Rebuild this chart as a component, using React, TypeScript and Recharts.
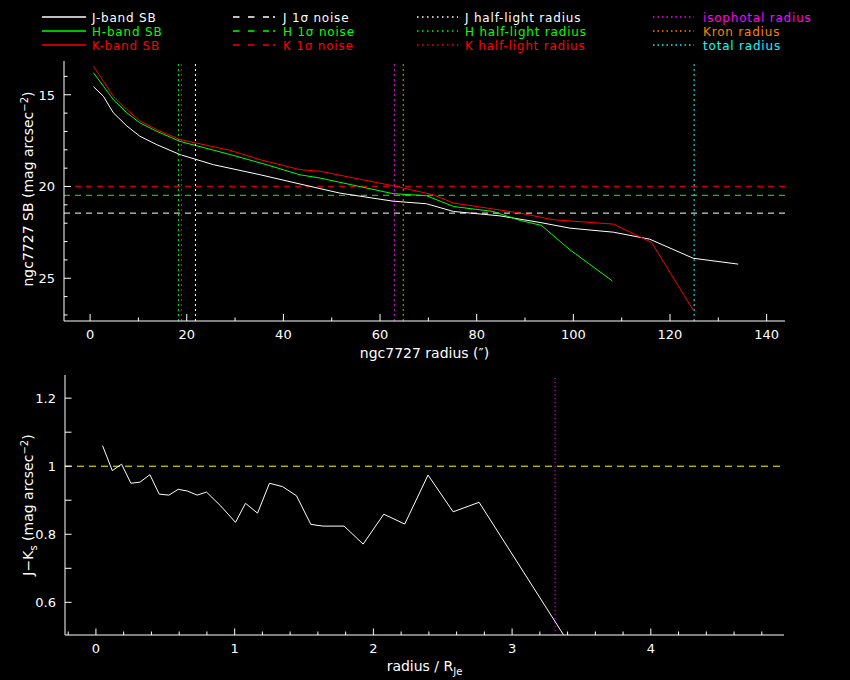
import React from 'react';
import { LineChart, Line, XAxis, YAxis, ReferenceLine, Label } from 'recharts';

// ---------- data: top panel (surface brightness profiles) ----------
const jRadius = [0.7, 2.75, 4.8, 7.6, 10.3, 13.8, 18.6, 25.5, 35.2, 45.5, 51.7, 62.7, 69.6, 75.2, 84.8, 93.1, 99.3, 108.3, 115.8, 124.8, 134.1];
const jSB = [14.56, 15.08, 15.98, 16.7, 17.26, 17.72, 18.26, 18.81, 19.36, 19.99, 20.36, 20.8, 20.94, 21.36, 21.6, 21.96, 22.27, 22.49, 22.87, 23.91, 24.23];

const hRadius = [0.7, 2.75, 4.8, 7.6, 10.3, 13.8, 18.6, 29, 36.5, 43.4, 47.6, 62.7, 69.6, 75.2, 83.4, 89, 93.4, 99.3, 108.1];
const hSB = [13.8, 14.53, 15.26, 15.98, 16.53, 16.99, 17.54, 18.26, 18.81, 19.36, 19.54, 20.39, 20.5, 21.09, 21.36, 21.85, 22.12, 23.45, 25.15];

const kRadius = [0.7, 2.75, 4.8, 7.6, 10.3, 13.8, 18.6, 29, 35.2, 43.4, 47.6, 62.7, 71, 75.2, 82, 89, 95.8, 108.3, 116.2, 124.8];
const kSB = [13.44, 14.26, 15.08, 15.8, 16.42, 16.9, 17.44, 18.03, 18.54, 19.08, 19.17, 19.96, 20.45, 20.9, 21.17, 21.45, 21.81, 22.05, 23.05, 26.73];

const noiseJ = 21.45;
const noiseH = 20.48;
const noiseK = 19.99;

const halfLightJ = 21.8;
const halfLightH = 18.27;
const halfLightK = 18.9;
const isophotalRadius = 62.95;
const kronRadius = 64.8;
const totalRadius = 125.0;

const topXTicks = [0, 10, 20, 30, 40, 50, 60, 70, 80, 90, 100, 110, 120, 130, 140];
const topXMajor = [0, 20, 40, 60, 80, 100, 120, 140];
const topYTicks = [14, 15, 16, 17, 18, 19, 20, 21, 22, 23, 24, 25, 26, 27];
const topYMajor = [15, 20, 25];

// ---------- data: bottom panel (J-Ks colour profile) ----------
const colorRadius = [0.048, 0.118, 0.185, 0.252, 0.317, 0.389, 0.456, 0.526, 0.593, 0.66, 0.73, 0.797, 0.9, 1.006, 1.078, 1.165, 1.251, 1.345, 1.446, 1.549, 1.638, 1.789, 1.926, 2.075, 2.226, 2.394, 2.575, 2.762, 3.37];
const colorJK = [1.06, 0.987, 1.006, 0.95, 0.953, 0.975, 0.918, 0.915, 0.932, 0.927, 0.915, 0.924, 0.883, 0.835, 0.891, 0.862, 0.95, 0.94, 0.913, 0.829, 0.824, 0.824, 0.771, 0.859, 0.83, 0.974, 0.866, 0.894, 0.505];
const colorRef = 1.0;
const colorMarker = 3.31;

const botXTicks = [-0.2, 0, 0.2, 0.4, 0.6, 0.8, 1, 1.2, 1.4, 1.6, 1.8, 2, 2.2, 2.4, 2.6, 2.8, 3, 3.2, 3.4, 3.6, 3.8, 4, 4.2, 4.4, 4.6, 4.8];
const botXMajor = [0, 1, 2, 3, 4];
const botYTicks = [0.6, 0.7, 0.8, 0.9, 1, 1.1, 1.2];
const botYLabels = [0.6, 0.8, 1, 1.2];

const toPoints = (xs: number[], ys: number[]) => xs.map((r, i) => ({ r, v: ys[i] }));
const jData = toPoints(jRadius, jSB);
const hData = toPoints(hRadius, hSB);
const kData = toPoints(kRadius, kSB);
const colorData = toPoints(colorRadius, colorJK);

const FONT = '"DejaVu Sans", sans-serif';
const WHITE = '#ffffff';
const GREEN = '#00ff00';
const RED = '#ff0000';
const MAGENTA = '#ff00ff';
const ORANGE = '#ff8000';
const CYAN = '#00ffff';
const YELLOW = '#ffff00';

const near = (list: number[], v: number) => list.some((m) => Math.abs(m - v) < 1e-6);

type Side = 'bottom' | 'top' | 'left' | 'right';

function makeTick(side: Side, majors: number[], majorLen: number, minorLen: number, labels?: number[]) {
  return (props: any) => {
    const { x, y, payload } = props;
    const v = payload.value as number;
    const len = near(majors, v) ? majorLen : minorLen;
    let line: React.ReactNode = null;
    if (side === 'bottom') line = <line x1={x} y1={y} x2={x} y2={y - len} stroke={WHITE} strokeWidth={1} />;
    if (side === 'top') line = <line x1={x} y1={y} x2={x} y2={y + len} stroke={WHITE} strokeWidth={1} />;
    if (side === 'left') line = <line x1={x} y1={y} x2={x + len} y2={y} stroke={WHITE} strokeWidth={1} />;
    if (side === 'right') line = <line x1={x} y1={y} x2={x - len} y2={y} stroke={WHITE} strokeWidth={1} />;
    let text: React.ReactNode = null;
    if (labels && near(labels, v)) {
      const s = String(Math.round(v * 10) / 10);
      if (side === 'bottom') {
        text = (
          <text x={x} y={y + 17.5} textAnchor="middle" fill={WHITE} fontSize={13} fontFamily={FONT}>
            {s}
          </text>
        );
      } else if (side === 'left') {
        text = (
          <text x={x - 9} y={y + 4.8} textAnchor="end" fill={WHITE} fontSize={13} fontFamily={FONT}>
            {s}
          </text>
        );
      }
    }
    return (
      <g>
        {line}
        {text}
      </g>
    );
  };
}

const TopXTitle = (props: any) => {
  const vb = props.viewBox || { x: 64, y: 321, width: 721 };
  return (
    <text x={vb.x + vb.width / 2} y={vb.y + 37} textAnchor="middle" fill={WHITE} fontSize={14} fontFamily={FONT}>
      ngc7727 radius (″)
    </text>
  );
};

const TopYTitle = (props: any) => {
  const vb = props.viewBox || { x: 0, y: 61, width: 64, height: 260 };
  const cx = 33;
  const cy = vb.y + vb.height / 2 - 2;
  return (
    <text x={cx} y={cy} transform={`rotate(-90 ${cx} ${cy})`} textAnchor="middle" fill={WHITE} fontSize={14} fontFamily={FONT}>
      ngc7727 SB (mag arcsec
      <tspan dy={-5} fontSize={10}>−2</tspan>
      <tspan dy={5}>)</tspan>
    </text>
  );
};

const BotXTitle = (props: any) => {
  const vb = props.viewBox || { x: 65, y: 635, width: 719 };
  return (
    <text x={vb.x + vb.width / 2} y={vb.y + 36} textAnchor="middle" fill={WHITE} fontSize={14} fontFamily={FONT}>
      radius / R
      <tspan dy={4} fontSize={10}>Je</tspan>
    </text>
  );
};

const BotYTitle = (props: any) => {
  const vb = props.viewBox || { x: 0, y: 375, width: 65, height: 260 };
  const cx = 33;
  const cy = vb.y + vb.height / 2;
  return (
    <text x={cx} y={cy} transform={`rotate(-90 ${cx} ${cy})`} textAnchor="middle" fill={WHITE} fontSize={14} fontFamily={FONT}>
      J−K
      <tspan dy={4} fontSize={10}>s</tspan>
      <tspan dy={-4}> (mag arcsec</tspan>
      <tspan dy={-5} fontSize={10}>−2</tspan>
      <tspan dy={5}>)</tspan>
    </text>
  );
};

type LegendItem = { label: string; color: string; kind: 'solid' | 'dashed' | 'dotted' | 'dotted2' };

const legendCol1: LegendItem[] = [
  { label: 'J-band SB', color: WHITE, kind: 'solid' },
  { label: 'H-band SB', color: GREEN, kind: 'solid' },
  { label: 'K-band SB', color: RED, kind: 'solid' },
];
const legendCol2: LegendItem[] = [
  { label: 'J 1σ noise', color: WHITE, kind: 'dashed' },
  { label: 'H 1σ noise', color: GREEN, kind: 'dashed' },
  { label: 'K 1σ noise', color: RED, kind: 'dashed' },
];
const legendCol3: LegendItem[] = [
  { label: 'J half-light radius', color: WHITE, kind: 'dotted' },
  { label: 'H half-light radius', color: GREEN, kind: 'dotted' },
  { label: 'K half-light radius', color: RED, kind: 'dotted' },
];
const legendCol4: LegendItem[] = [
  { label: 'isophotal radius', color: MAGENTA, kind: 'dotted2' },
  { label: 'Kron radius', color: ORANGE, kind: 'dotted2' },
  { label: 'total radius', color: CYAN, kind: 'dotted2' },
];

const legendRows = [17, 31, 45];

const LegendBlock = ({ items, x1, x2, tx }: { items: LegendItem[]; x1: number; x2: number; tx: number }) => (
  <g>
    {items.map((it, i) => {
      const y = legendRows[i];
      const dash =
        it.kind === 'solid'
          ? undefined
          : it.kind === 'dashed'
          ? '6.5 8.5 6.5 8.5 6 4 2 100'
          : it.kind === 'dotted'
          ? '1.5 3.5'
          : '1.5 3';
      return (
        <g key={it.label}>
          <line x1={x1} y1={y} x2={x2} y2={y} stroke={it.color} strokeWidth={1.3} strokeDasharray={dash} />
          <text x={tx} y={y + 4.5} fill={it.color} fontSize={12} letterSpacing={0.8} fontFamily={FONT}>
            {it.label}
          </text>
        </g>
      );
    })}
  </g>
);

const vDash = '2 3';

export default function App() {
  return (
    <div style={{ position: 'absolute', left: 0, top: 0, width: 850, height: 680, background: '#000', overflow: 'hidden' }}>
      <svg width={850} height={60} style={{ position: 'absolute', left: 0, top: 0 }}>
        <LegendBlock items={legendCol1} x1={42} x2={86} tx={92} />
        <LegendBlock items={legendCol2} x1={233} x2={276} tx={283} />
        <LegendBlock items={legendCol3} x1={417} x2={458} tx={465} />
        <LegendBlock items={legendCol4} x1={653} x2={694} tx={703} />
      </svg>

      <div style={{ position: 'absolute', left: 0, top: 0 }}>
        <LineChart width={850} height={365} margin={{ top: 61, right: 65, bottom: 0, left: 0 }}>
          <XAxis
            xAxisId="b"
            type="number"
            dataKey="r"
            domain={[-5.4, 143.8]}
            allowDataOverflow
            ticks={topXTicks}
            interval={0}
            height={44}
            tickSize={0}
            tickMargin={0}
            tickLine={false}
            axisLine={{ stroke: WHITE }}
            tick={makeTick('bottom', topXMajor, 7, 3.5, topXMajor)}
          >
            <Label content={<TopXTitle />} />
          </XAxis>
          <XAxis
            xAxisId="t"
            orientation="top"
            type="number"
            dataKey="r"
            domain={[-5.4, 143.8]}
            allowDataOverflow
            ticks={topXTicks}
            interval={0}
            height={0}
            tickSize={0}
            tickMargin={0}
            tickLine={false}
            axisLine={{ stroke: WHITE }}
            tick={makeTick('top', topXMajor, 7, 3.5)}
          />
          <YAxis
            yAxisId="l"
            type="number"
            domain={[13.16, 27.33]}
            reversed
            allowDataOverflow
            ticks={topYTicks}
            interval={0}
            width={64}
            tickSize={0}
            tickMargin={0}
            tickLine={false}
            axisLine={{ stroke: WHITE }}
            tick={makeTick('left', topYMajor, 7, 3.5, topYMajor)}
          >
            <Label content={<TopYTitle />} />
          </YAxis>
          <YAxis
            yAxisId="r"
            orientation="right"
            type="number"
            domain={[13.16, 27.33]}
            reversed
            allowDataOverflow
            ticks={topYTicks}
            interval={0}
            width={0}
            tickSize={0}
            tickMargin={0}
            tickLine={false}
            axisLine={{ stroke: WHITE }}
            tick={makeTick('right', topYMajor, 7, 3.5)}
          />

          <ReferenceLine xAxisId="b" yAxisId="l" y={noiseJ} stroke={WHITE} strokeDasharray="6 5" />
          <ReferenceLine xAxisId="b" yAxisId="l" y={noiseH} stroke={GREEN} strokeDasharray="6 5" />
          <ReferenceLine xAxisId="b" yAxisId="l" y={noiseK} stroke={RED} strokeDasharray="6 5" />

          <Line xAxisId="b" yAxisId="l" data={jData} dataKey="v" type="linear" stroke={WHITE} strokeWidth={1} dot={false} isAnimationActive={false} />
          <Line xAxisId="b" yAxisId="l" data={hData} dataKey="v" type="linear" stroke={GREEN} strokeWidth={1} dot={false} isAnimationActive={false} />
          <Line xAxisId="b" yAxisId="l" data={kData} dataKey="v" type="linear" stroke={RED} strokeWidth={1} dot={false} isAnimationActive={false} />

          <ReferenceLine xAxisId="b" yAxisId="l" x={halfLightH} stroke={GREEN} strokeDasharray={vDash} />
          <ReferenceLine xAxisId="b" yAxisId="l" x={halfLightK} stroke={RED} strokeDasharray={vDash} />
          <ReferenceLine xAxisId="b" yAxisId="l" x={halfLightJ} stroke={WHITE} strokeDasharray={vDash} />
          <ReferenceLine xAxisId="b" yAxisId="l" x={isophotalRadius} stroke={MAGENTA} strokeDasharray={vDash} />
          <ReferenceLine xAxisId="b" yAxisId="l" x={kronRadius} stroke={ORANGE} strokeDasharray={vDash} />
          <ReferenceLine xAxisId="b" yAxisId="l" x={totalRadius} stroke={CYAN} strokeDasharray={vDash} />
        </LineChart>
      </div>

      <div style={{ position: 'absolute', left: 0, top: 365 }}>
        <LineChart width={850} height={315} margin={{ top: 10, right: 66, bottom: 0, left: 0 }}>
          <XAxis
            xAxisId="b"
            type="number"
            dataKey="r"
            domain={[-0.223, 4.96]}
            allowDataOverflow
            ticks={botXTicks}
            interval={0}
            height={45}
            tickSize={0}
            tickMargin={0}
            tickLine={false}
            axisLine={{ stroke: WHITE }}
            tick={makeTick('bottom', botXMajor, 6.5, 3.5, botXMajor)}
          >
            <Label content={<BotXTitle />} />
          </XAxis>
          <XAxis
            xAxisId="t"
            orientation="top"
            type="number"
            dataKey="r"
            domain={[-0.223, 4.96]}
            allowDataOverflow
            ticks={botXTicks}
            interval={0}
            height={0}
            tickSize={0}
            tickMargin={0}
            tickLine={false}
            axisLine={{ stroke: WHITE }}
            tick={makeTick('top', botXMajor, 6.5, 3.5)}
          />
          <YAxis
            yAxisId="l"
            type="number"
            domain={[0.504, 1.268]}
            allowDataOverflow
            ticks={botYTicks}
            interval={0}
            width={65}
            tickSize={0}
            tickMargin={0}
            tickLine={false}
            axisLine={{ stroke: WHITE }}
            tick={makeTick('left', botYTicks, 6.5, 6.5, botYLabels)}
          >
            <Label content={<BotYTitle />} />
          </YAxis>
          <YAxis
            yAxisId="r"
            orientation="right"
            type="number"
            domain={[0.504, 1.268]}
            allowDataOverflow
            ticks={botYTicks}
            interval={0}
            width={0}
            tickSize={0}
            tickMargin={0}
            tickLine={false}
            axisLine={{ stroke: WHITE }}
            tick={makeTick('right', botYTicks, 6.5, 6.5)}
          />

          <ReferenceLine xAxisId="b" yAxisId="l" y={colorRef} stroke={YELLOW} strokeDasharray="7 5" />
          <ReferenceLine xAxisId="b" yAxisId="l" x={colorMarker} stroke={MAGENTA} strokeDasharray="1 3" />
          <Line xAxisId="b" yAxisId="l" data={colorData} dataKey="v" type="linear" stroke={WHITE} strokeWidth={1} dot={false} isAnimationActive={false} />
        </LineChart>
      </div>
    </div>
  );
}
